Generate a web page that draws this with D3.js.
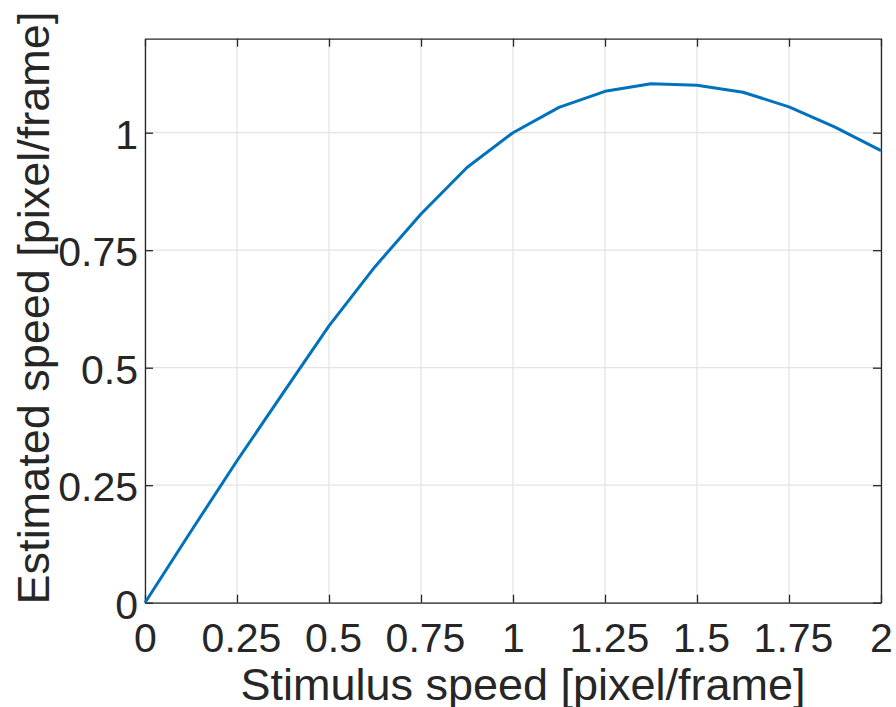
<!DOCTYPE html>
<html>
<head>
<meta charset="utf-8">
<script src="https://cdn.jsdelivr.net/npm/d3@7"></script>
<style>
  body { margin: 0; background: #fff; }
  svg { display: block; font-family: "Liberation Sans", Arial, sans-serif; }
</style>
</head>
<body>
<div id="chart"></div>
<script>
var svgWidth = 896;
var svgHeight = 707;

var margin = { top: 38.7, right: 15, bottom: 104.3, left: 145 };

var width = svgWidth - margin.left - margin.right;
var height = svgHeight - margin.top - margin.bottom;

// data
var stimulusSpeed = [0, 0.125, 0.25, 0.375, 0.5, 0.625, 0.75, 0.875, 1, 1.125, 1.25, 1.375, 1.5, 1.625, 1.75, 1.875, 2];
var estimatedSpeed = [0, 0.152, 0.302, 0.446, 0.589, 0.715, 0.827, 0.926, 1.0, 1.054, 1.088, 1.104, 1.101, 1.086, 1.055, 1.012, 0.962];
var xTicks = [0, 0.25, 0.5, 0.75, 1, 1.25, 1.5, 1.75, 2];
var xTickLabels = ["0", "0.25", "0.5", "0.75", "1", "1.25", "1.5", "1.75", "2"];
var yTicks = [0, 0.25, 0.5, 0.75, 1];
var yTickLabels = ["0", "0.25", "0.5", "0.75", "1"];

var svg = d3.select("#chart")
  .append("svg")
  .attr("width", svgWidth)
  .attr("height", svgHeight);

var chartGroup = svg.append("g")
  .attr("transform", `translate(${margin.left}, ${margin.top})`);

var xScale = d3.scaleLinear().domain([0, 2]).range([0, width]);
var yScale = d3.scaleLinear().domain([0, 1.2]).range([height, 0]);

var axisColor = "#262626";

// grid
chartGroup.append("g")
  .selectAll("line")
  .data(xTicks)
  .enter()
  .append("line")
  .attr("x1", d => xScale(d))
  .attr("x2", d => xScale(d))
  .attr("y1", 0)
  .attr("y2", height)
  .attr("stroke", "#e3e3e3")
  .attr("stroke-width", 1.2);

chartGroup.append("g")
  .selectAll("line")
  .data(yTicks)
  .enter()
  .append("line")
  .attr("x1", 0)
  .attr("x2", width)
  .attr("y1", d => yScale(d))
  .attr("y2", d => yScale(d))
  .attr("stroke", "#e3e3e3")
  .attr("stroke-width", 1.2);

// axes (inward ticks, box on all four sides)
function styleAxis(g) {
  g.select(".domain").attr("stroke", axisColor).attr("stroke-width", 1.3);
  g.selectAll(".tick line").attr("stroke", axisColor).attr("stroke-width", 1.3);
  g.selectAll(".tick text").attr("fill", axisColor).style("font-size", "41px");
}

var bottomAxis = d3.axisBottom(xScale)
  .tickValues(xTicks)
  .tickFormat((d, i) => xTickLabels[i])
  .tickSizeInner(-8).tickSizeOuter(0).tickPadding(20);

chartGroup.append("g")
  .attr("transform", `translate(0, ${height})`)
  .call(bottomAxis)
  .call(styleAxis)
  .selectAll(".tick text")
  .attr("dy", "0.72em")
  .attr("dx", (d, i) => xTickLabels[i].length > 1 ? 4 : 0);

var topAxis = d3.axisTop(xScale)
  .tickValues(xTicks)
  .tickFormat("")
  .tickSizeInner(-8).tickSizeOuter(0);

chartGroup.append("g")
  .call(topAxis)
  .call(styleAxis);

var leftAxis = d3.axisLeft(yScale)
  .tickValues(yTicks)
  .tickFormat((d, i) => yTickLabels[i])
  .tickSizeInner(-8).tickSizeOuter(0).tickPadding(7);

chartGroup.append("g")
  .call(leftAxis)
  .call(styleAxis)
  .selectAll(".tick text")
  .attr("dy", "0.38em");

var rightAxis = d3.axisRight(yScale)
  .tickValues(yTicks)
  .tickFormat("")
  .tickSizeInner(-8).tickSizeOuter(0);

chartGroup.append("g")
  .attr("transform", `translate(${width}, 0)`)
  .call(rightAxis)
  .call(styleAxis);

// line
var line = d3.line()
  .x((d, i) => xScale(stimulusSpeed[i]))
  .y(d => yScale(d));

chartGroup.append("path")
  .datum(estimatedSpeed)
  .attr("fill", "none")
  .attr("stroke", "#0072BD")
  .attr("stroke-width", 3)
  .attr("stroke-linejoin", "round")
  .attr("d", line);

// axis labels
svg.append("text")
  .attr("x", 523)
  .attr("y", 700)
  .attr("text-anchor", "middle")
  .attr("fill", axisColor)
  .style("font-size", "45px")
  .text("Stimulus speed [pixel/frame]");

svg.append("text")
  .attr("transform", "translate(49, 308) rotate(-90)")
  .attr("text-anchor", "middle")
  .attr("fill", axisColor)
  .style("font-size", "45px")
  .text("Estimated speed [pixel/frame]");
</script>
</body>
</html>
